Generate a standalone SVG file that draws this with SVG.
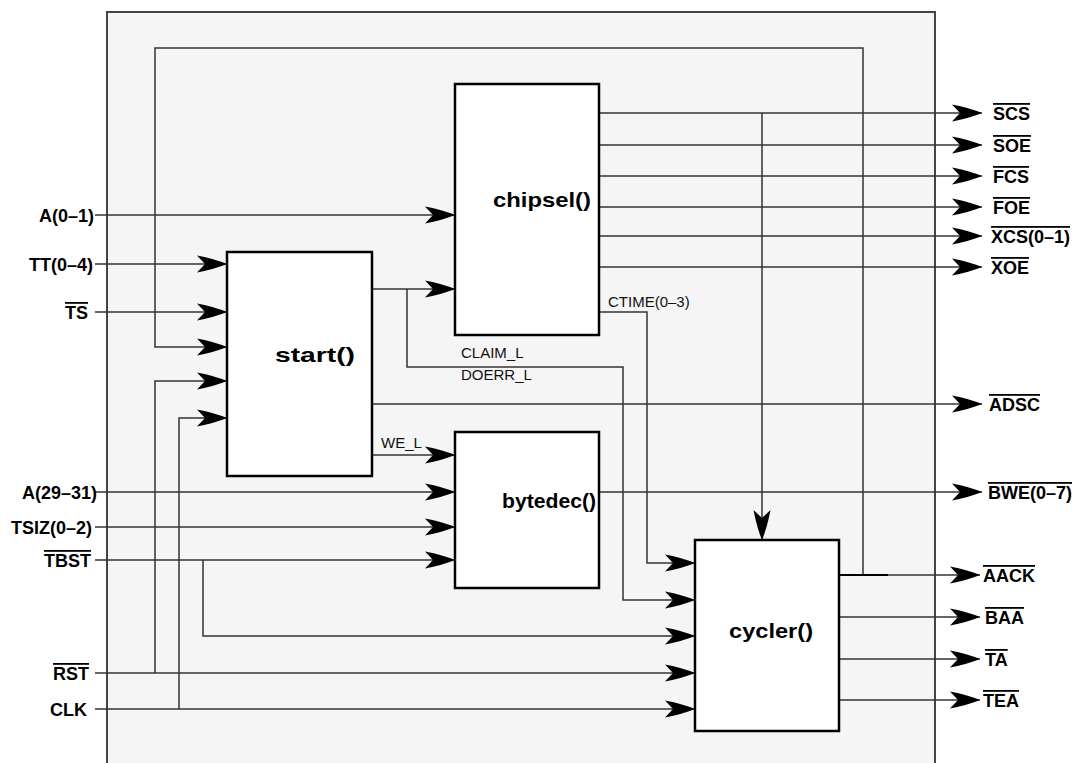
<svg xmlns="http://www.w3.org/2000/svg" width="1076" height="763" viewBox="0 0 1076 763">
<defs>
<marker id="ah" viewBox="0 0 30 18" refX="30" refY="9" markerWidth="30" markerHeight="18" markerUnits="userSpaceOnUse" orient="auto">
<path d="M0,0.5 Q18,4 30,9 Q18,14 0,17.5 L8,9 Z" fill="#000"/>
</marker>
<style>
.w{fill:none;stroke:#333;stroke-width:1.5}
.a{marker-end:url(#ah)}
.box{fill:#fff;stroke:#000;stroke-width:2.5}
.lbl{font-family:"Liberation Sans",Arial,sans-serif;font-weight:bold;font-size:18px;fill:#000}
.ol{text-decoration:overline}
.sig{font-family:"Liberation Sans",Arial,sans-serif;font-size:15px;fill:#111}
.fn{font-family:"Liberation Sans",Arial,sans-serif;font-weight:bold;font-size:21px;fill:#000}
</style>
</defs>
<rect x="0" y="0" width="1076" height="763" fill="#fff"/>
<rect id="frame" x="107" y="12" width="828" height="770" fill="#f5f5f5" stroke="#444" stroke-width="2"/>

<g id="connectors">
<path class="w a" d="M95,215 H455"/>
<path class="w a" d="M95,264 H227"/>
<path class="w a" d="M95,312 H227"/>
<path class="w a" d="M888,575 H863 V48 H155 V347 H227"/>
<path class="w a" d="M155,673 V381 H227"/>
<path class="w a" d="M179,709 V418 H227"/>
<path class="w a" d="M95,492 H455"/>
<path class="w a" d="M95,527 H455"/>
<path class="w a" d="M95,560 H455"/>
<path class="w a" d="M372,289 H455"/>
<path class="w a" d="M407,289 V367 H623 V600 H695"/>
<path class="w a" d="M372,404 H982"/>
<path class="w a" d="M372,455 H455"/>
<path class="w a" d="M599,113 H982"/>
<path class="w a" d="M599,145 H982"/>
<path class="w a" d="M599,176 H982"/>
<path class="w a" d="M599,207 H982"/>
<path class="w a" d="M599,236 H982"/>
<path class="w a" d="M599,267 H982"/>
<path class="w a" d="M762,113 V540"/>
<path class="w a" d="M599,312 H647 V563 H695"/>
<path class="w a" d="M599,492 H982"/>
<path class="w a" d="M203,560 V636 H695"/>
<path class="w a" d="M95,673 H695"/>
<path class="w a" d="M95,709 H695"/>
<path class="w a" d="M839,575 H980"/>
<path class="w a" d="M839,617 H980"/>
<path class="w a" d="M839,659 H980"/>
<path class="w a" d="M839,700 H980"/>
<path d="M839,575 H888" stroke="#000" stroke-width="2" fill="none"/>
</g>

<g id="chipsel">
<rect class="box" x="455" y="84" width="144" height="251"/>
<text class="fn" x="493" y="207" textLength="98" lengthAdjust="spacingAndGlyphs">chipsel()</text>
</g>
<g id="start">
<rect class="box" x="227" y="252" width="145" height="224"/>
<text class="fn" x="275" y="362" textLength="80" lengthAdjust="spacingAndGlyphs">start()</text>
</g>
<g id="bytedec">
<rect class="box" x="455" y="432" width="144" height="156"/>
<text class="fn" x="502" y="508" textLength="94" lengthAdjust="spacingAndGlyphs">bytedec()</text>
</g>
<g id="cycler">
<rect class="box" x="695" y="540" width="144" height="191"/>
<text class="fn" x="729" y="638" textLength="84" lengthAdjust="spacingAndGlyphs">cycler()</text>
</g>

<g id="signal-labels">
<text class="sig" x="381" y="448">WE_L</text>
<text class="sig" x="461" y="358">CLAIM_L</text>
<text class="sig" x="461" y="380">DOERR_L</text>
<text class="sig" x="608" y="307">CTIME(0–3)</text>
</g>

<g id="inputs" text-anchor="end">
<text class="lbl" x="94" y="222">A(0–1)</text>
<text class="lbl" x="93" y="271">TT(0–4)</text>
<text class="lbl ol" x="88" y="319">TS</text>
<text class="lbl" x="97" y="499">A(29–31)</text>
<text class="lbl" x="92" y="534">TSIZ(0–2)</text>
<text class="lbl ol" x="91" y="567">TBST</text>
<text class="lbl ol" x="89" y="680">RST</text>
<text class="lbl" x="87" y="716">CLK</text>
</g>

<g id="outputs">
<text class="lbl ol" x="993" y="120">SCS</text>
<text class="lbl ol" x="993" y="152">SOE</text>
<text class="lbl ol" x="993" y="183">FCS</text>
<text class="lbl ol" x="993" y="214">FOE</text>
<text class="lbl ol" x="991" y="243">XCS(0–1)</text>
<text class="lbl ol" x="991" y="274">XOE</text>
<text class="lbl ol" x="989" y="411">ADSC</text>
<text class="lbl ol" x="988" y="499">BWE(0–7)</text>
<text class="lbl ol" x="983" y="582">AACK</text>
<text class="lbl ol" x="985" y="624">BAA</text>
<text class="lbl ol" x="985" y="666">TA</text>
<text class="lbl ol" x="983" y="707">TEA</text>
</g>
</svg>
